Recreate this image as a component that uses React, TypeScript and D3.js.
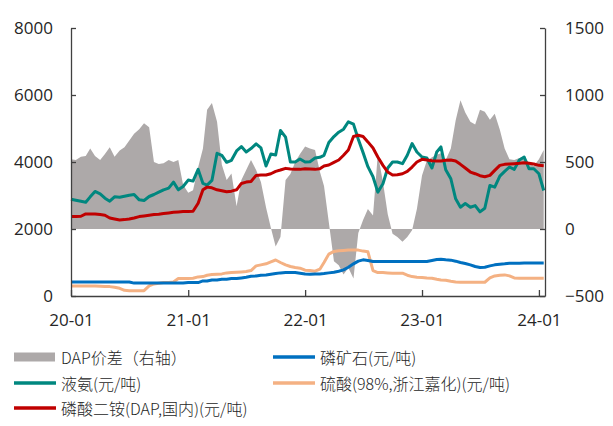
import { useEffect, useRef } from 'react';
import * as d3 from 'd3';

// semi-monthly samples (1st and 16th), 2020-01-01 .. 2024-01-16
const dates: Date[] = d3.timeMonth
  .range(new Date(2020, 0, 1), new Date(2024, 1, 1))
  .flatMap(m => [m, new Date(m.getFullYear(), m.getMonth(), 16)]);

const ammonia = [
  2890, 2860, 2830, 2800, 2960, 3120, 3050, 2920, 2830, 2960,
  2950, 2980, 3010, 3030, 2870, 2850, 2970, 3030, 3100, 3170,
  3220, 3400, 3170, 3270, 3460, 3430, 3780, 3360, 3310, 3450,
  4260, 4200, 3990, 4050, 4330, 4460, 4300, 4400, 4540, 4420,
  3880, 4240, 4210, 4940, 4740, 4000, 4000, 4090, 4000, 4010,
  4120, 4140, 4200, 4580, 4760, 4890, 4980, 5200, 5130, 4680,
  4280, 3860, 3560, 3100, 3350, 3820, 4000, 4000, 3950, 4200,
  4550, 4300, 4150, 4120, 3820, 4300, 4450, 3770, 3500, 2900,
  2650, 2760, 2650, 2700, 2510, 2620, 3300, 3250, 3580, 3720,
  3850, 3780, 4060, 4150, 3800, 3800, 3650, 3150,
];

const dap = [
  2370, 2370, 2380, 2450, 2450, 2450, 2430, 2410, 2330, 2300,
  2270, 2280, 2300, 2330, 2370, 2390, 2410, 2430, 2440, 2460,
  2480, 2500, 2510, 2520, 2520, 2530, 2770, 3170, 3250, 3230,
  3170, 3140, 3110, 3130, 3170, 3360, 3400, 3420, 3600, 3610,
  3610, 3650, 3720, 3760, 3810, 3790, 3780, 3780, 3800, 3790,
  3780, 3800, 3880, 3910, 3990, 4060, 4200, 4360, 4760, 4800,
  4760, 4600, 4420, 4150, 3900, 3700, 3610, 3620, 3650, 3720,
  3850, 4000, 4080, 4060, 4040, 4030, 4030, 4050, 4060, 4030,
  3930, 3820, 3700, 3650, 3590, 3560, 3600, 3750, 3900, 3930,
  3940, 3950, 3960, 3980, 3960, 3940, 3900, 3890,
];

const rock = [
  418, 418, 418, 418, 418, 418, 418, 418, 418, 418,
  418, 418, 418, 385, 385, 385, 385, 385, 385, 385,
  385, 385, 385, 385, 400, 400, 400, 450, 450, 478,
  478, 500, 500, 520, 520, 540, 560, 590, 600, 620,
  630, 650, 670, 690, 700, 700, 700, 680, 660, 650,
  660, 660, 670, 690, 710, 740, 780, 860, 960, 1040,
  1080, 1060, 1030, 1030, 1030, 1030, 1030, 1030, 1030, 1030,
  1030, 1030, 1030, 1030, 1060, 1090, 1095, 1080, 1070, 1040,
  1000, 970, 930, 880, 850, 860, 900, 930, 950, 960,
  975, 975, 980, 985, 985, 985, 985, 985,
];

const sulfuric = [
  300, 300, 300, 300, 300, 300, 290, 280, 280, 260,
  230, 170, 160, 160, 160, 160, 300, 360, 380, 400,
  400, 420, 520, 520, 520, 530, 570, 580, 620, 640,
  650, 660, 690, 700, 710, 720, 730, 760, 900, 930,
  960, 1020, 1075, 1000, 930, 880, 850, 830, 770, 760,
  740, 800, 1000, 1250, 1330, 1350, 1360, 1370, 1370, 1370,
  1340, 1320, 760, 700, 700, 690, 680, 680, 680, 620,
  580, 560, 555, 540, 530, 500, 480, 470, 440, 420,
  410, 410, 410, 410, 410, 410, 540, 600, 620, 630,
  600, 540, 530, 530, 530, 530, 530, 530,
];

// DAP spread, right axis
const spread = [
  520, 515, 540, 545, 600, 545, 515, 560, 610, 540,
  585, 610, 660, 710, 745, 790, 760, 500, 485, 490,
  515, 500, 515, 330, 270, 290, 460, 600, 890, 940,
  800, 480, 365, 415, 170, 365, 440, 515, 440, 350,
  160, 10, -130, -60, 365, 410, 500, 560, 615, 600,
  590, 430, 320, 50, -240, -270, -340, -290, -370, -30,
  67, 150, 100, 560, 350, 110, -35, -60, -95, -60,
  -10, 150, 400, 510, 535, 555, 565, 515, 600, 810,
  960, 870, 800, 780, 890, 875, 815, 860, 740, 600,
  520, 515, 530, 540, 495, 470, 520, 590,
];

const leftTicks = [0, 2000, 4000, 6000, 8000];
const rightTicks = [-500, 0, 500, 1000, 1500];
const yearTicks = [2020, 2021, 2022, 2023, 2024].map(y => new Date(y, 0, 1));

const legendItems = [
  { label: 'DAP价差（右轴）', color: '#ADA9A9', kind: 'rect', col: 0, row: 0 },
  { label: '磷矿石(元/吨)', color: '#0070C0', kind: 'line', col: 1, row: 0 },
  { label: '液氨(元/吨)', color: '#00877F', kind: 'line', col: 0, row: 1 },
  { label: '硫酸(98%,浙江嘉化)(元/吨)', color: '#F4B183', kind: 'line', col: 1, row: 1 },
  { label: '磷酸二铵(DAP,国内)(元/吨)', color: '#C00000', kind: 'line', col: 0, row: 2 },
];

export default function App() {
  const svgRef = useRef<SVGSVGElement>(null);

  useEffect(() => {
    document.body.style.margin = '0';
    const svg = d3.select(svgRef.current);
    svg.selectAll('*').remove();

    const W = 613;
    const H = 426;
    const left = 71, right = 545, top = 28, bottom = 296;
    const axisColor = '#404040';
    const font = '"Open Sans", "Liberation Sans", sans-serif';

    const x = d3.scaleTime().domain([new Date(2020, 0, 1), new Date(2024, 0, 20)]).range([left, right]);
    const yL = d3.scaleLinear().domain([0, 8000]).range([bottom, top]);
    const yR = d3.scaleLinear().domain([-500, 1500]).range([bottom, top]);

    svg.attr('width', W).attr('height', H);

    // spread area
    svg.append('path')
      .datum(spread)
      .attr('fill', '#ADA9A9')
      .attr('d', d3.area<number>()
        .x((_, i) => x(dates[i]))
        .y0(yR(0))
        .y1(d => yR(d))(spread) as string);

    const line = (vals: number[], color: string) => {
      svg.append('path')
        .attr('fill', 'none')
        .attr('stroke', color)
        .attr('stroke-width', 3)
        .attr('stroke-linejoin', 'round')
        .attr('d', d3.line<number>()
          .x((_, i) => x(dates[i]))
          .y(d => yL(d))(vals) as string);
    };
    line(sulfuric, '#F4B183');
    line(rock, '#0070C0');
    line(ammonia, '#00877F');
    line(dap, '#C00000');

    // axes
    const styleAxis = (g: d3.Selection<SVGGElement, unknown, null, undefined>) => {
      g.selectAll('path, line').attr('stroke', axisColor).attr('stroke-width', 1.3);
      g.selectAll('text').attr('fill', '#262626').style('font-size', '17px').style('font-family', font);
    };

    svg.append('g')
      .attr('transform', `translate(${left},0)`)
      .call(d3.axisLeft(yL).tickValues(leftTicks).tickSizeInner(-5).tickSizeOuter(0).tickPadding(18).tickFormat(d3.format('d')))
      .call(styleAxis);

    svg.append('g')
      .attr('transform', `translate(${right},0)`)
      .call(d3.axisRight(yR).tickValues(rightTicks).tickSizeInner(-5).tickSizeOuter(0).tickPadding(20).tickFormat(d3.format('d')))
      .call(styleAxis);

    svg.append('g')
      .attr('transform', `translate(0,${bottom})`)
      .call(d3.axisBottom<Date>(x).tickValues(yearTicks).tickSizeInner(-6).tickSizeOuter(0).tickPadding(18).tickFormat(d3.timeFormat('%y-%m') as any))
      .call(styleAxis);

    // legend
    const colX = [14, 273];
    const rowY = [357, 383, 408];
    const lg = svg.append('g');
    legendItems.forEach(it => {
      const lx = colX[it.col];
      const ly = rowY[it.row];
      if (it.kind === 'rect') {
        lg.append('rect').attr('x', lx).attr('y', ly - 4.5).attr('width', 41).attr('height', 9).attr('fill', it.color);
      } else {
        lg.append('line').attr('x1', lx).attr('x2', lx + 42).attr('y1', ly).attr('y2', ly)
          .attr('stroke', it.color).attr('stroke-width', 3.5);
      }
      lg.append('text')
        .attr('x', lx + 47)
        .attr('y', ly)
        .attr('dominant-baseline', 'central')
        .attr('fill', '#262626')
        .style('font-size', '16px')
        .style('font-family', '"Noto Sans CJK SC", sans-serif')
        .style('font-weight', 300)
        .text(it.label);
    });
  }, []);

  return (
    <div style={{ position: 'absolute', left: 0, top: 0, width: 613, height: 426, overflow: 'hidden', background: '#fff' }}>
      <svg ref={svgRef} />
    </div>
  );
}
